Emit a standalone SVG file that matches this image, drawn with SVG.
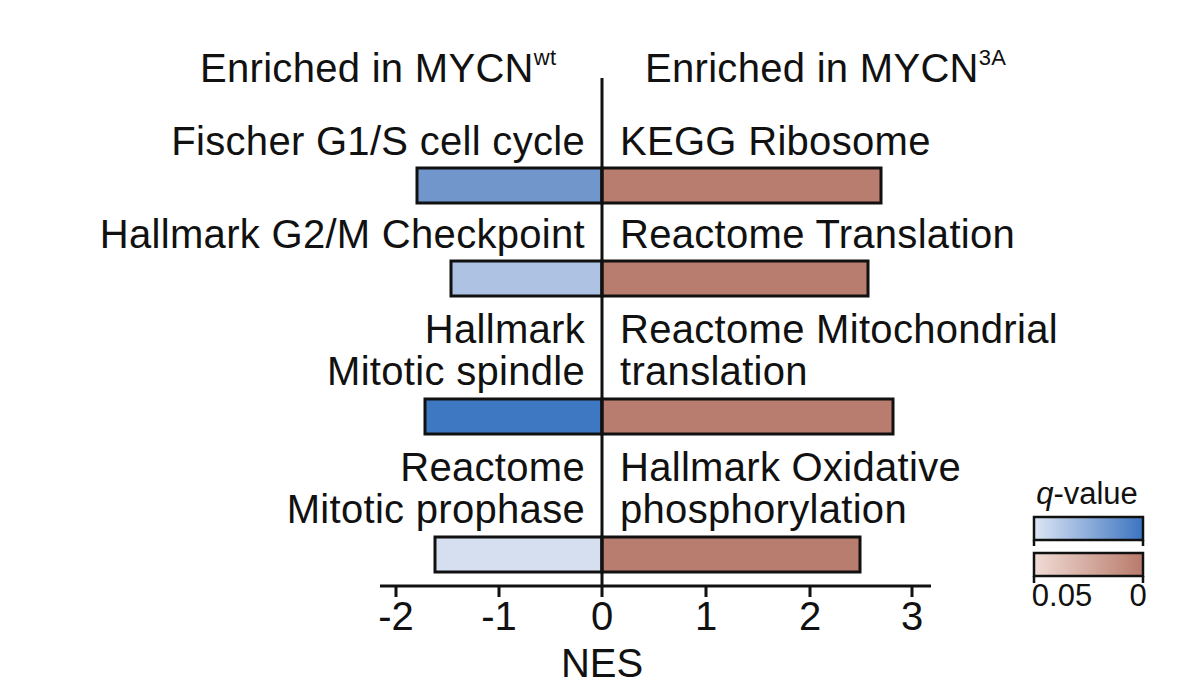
<svg xmlns="http://www.w3.org/2000/svg" width="1182" height="691" viewBox="0 0 1182 691">
<style>
text{font-family:"Liberation Sans",Arial,sans-serif;font-size:40px;fill:#111}
.r{text-anchor:end}.m{text-anchor:middle}
.lab{letter-spacing:0.3px}
.bar{stroke:#111;stroke-width:3}
.ax{stroke:#111;stroke-width:3;fill:none}
.lg{font-size:31px}
</style>
<defs>
<linearGradient id="gb"><stop offset="0" stop-color="#dde6f4"/><stop offset="1" stop-color="#3b74c0"/></linearGradient>
<linearGradient id="gr"><stop offset="0" stop-color="#f1dcd6"/><stop offset="1" stop-color="#b87a6a"/></linearGradient>
</defs>
<rect width="1182" height="691" fill="#fff"/>
<g id="bars">
<rect class="bar" x="417" y="168" width="185" height="35" fill="#7096cc"/>
<rect class="bar" x="602" y="168" width="279" height="35" fill="#b87d6e"/>
<rect class="bar" x="451" y="261" width="151" height="35" fill="#aec3e3"/>
<rect class="bar" x="602" y="261" width="266" height="35" fill="#b87d6e"/>
<rect class="bar" x="425" y="399" width="177" height="35" fill="#3f78c2"/>
<rect class="bar" x="602" y="399" width="291" height="35" fill="#b87d6e"/>
<rect class="bar" x="435" y="537" width="167" height="35" fill="#d5dff0"/>
<rect class="bar" x="602" y="537" width="258" height="35" fill="#b87d6e"/>
</g>
<g id="axes">
<line class="ax" x1="602" y1="78" x2="602" y2="586"/>
<line class="ax" x1="380" y1="586" x2="931" y2="586"/>
<path class="ax" d="M396 586v11M499 586v11M602 586v11M706 586v11M810 586v11M912 586v11"/>
</g>
<g id="ticklabels">
<text class="m" x="396" y="630">-2</text><text class="m" x="499" y="630">-1</text><text class="m" x="602" y="630">0</text>
<text class="m" x="706" y="630">1</text><text class="m" x="810" y="630">2</text><text class="m" x="912" y="630">3</text>
<text class="m" x="602" y="677">NES</text>
</g>
<g id="headers">
<text class="lab" x="200" y="82">Enriched in MYCN<tspan font-size="22" dy="-17">wt</tspan></text>
<text class="lab" x="645" y="82">Enriched in MYCN<tspan font-size="22" dy="-17">3A</tspan></text>
</g>
<g id="labels" class="lab">
<text class="r lab" x="585" y="155">Fischer G1/S cell cycle</text>
<text class="lab" x="620" y="155">KEGG Ribosome</text>
<text class="r lab" x="585" y="248">Hallmark G2/M Checkpoint</text>
<text class="lab" x="620" y="248">Reactome Translation</text>
<text class="r lab" x="585" y="343">Hallmark</text>
<text class="r lab" x="585" y="385">Mitotic spindle</text>
<text class="lab" x="620" y="343">Reactome Mitochondrial</text>
<text class="lab" x="620" y="385">translation</text>
<text class="r lab" x="585" y="481">Reactome</text>
<text class="r lab" x="585" y="523">Mitotic prophase</text>
<text class="lab" x="620" y="481">Hallmark Oxidative</text>
<text class="lab" x="620" y="523">phosphorylation</text>
</g>
<g id="legend">
<text class="lg m" x="1087" y="504"><tspan font-style="italic">q</tspan>-value</text>
<rect x="1034" y="517" width="109" height="23" fill="url(#gb)" stroke="#111" stroke-width="2.5"/>
<rect x="1034" y="553" width="109" height="23" fill="url(#gr)" stroke="#111" stroke-width="2.5"/>
<path d="M1034 540v6M1143 540v6M1034 576v7M1143 576v7" stroke="#111" stroke-width="2.5"/>
<text class="lg m" x="1062" y="606">0.05</text>
<text class="lg m" x="1138" y="606">0</text>
</g>
</svg>
